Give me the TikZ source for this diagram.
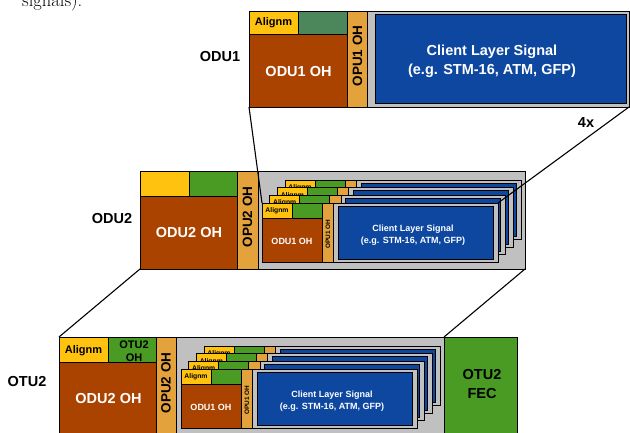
\documentclass[tikz,border=0pt]{standalone}
\usepackage{fontspec}
\setsansfont{Liberation Sans}
\definecolor{cyel}{RGB}{255,194,14}
\definecolor{cgrn}{RGB}{73,155,36}
\definecolor{cgrnm}{RGB}{76,135,92}
\definecolor{cbrn}{RGB}{170,66,0}
\definecolor{corg}{RGB}{228,162,60}
\definecolor{cgry}{RGB}{192,192,192}
\definecolor{cblu}{RGB}{14,71,160}
\tikzset{
  bx/.style={draw=black, line width=0.8pt},
  big/.style={font=\sffamily\bfseries\fontsize{14.5}{19}\selectfont, inner sep=0pt},
  opub/.style={font=\sffamily\bfseries\fontsize{13.5}{15}\selectfont, inner sep=0pt, rotate=90},
  mid/.style={font=\sffamily\bfseries\fontsize{11}{13}\selectfont, inner sep=0pt},
  sml/.style={font=\sffamily\bfseries\fontsize{9}{11.7}\selectfont, inner sep=0pt},
  tny/.style={font=\sffamily\bfseries\fontsize{6.8}{8}\selectfont, inner sep=0pt},
  tnr/.style={font=\sffamily\bfseries\fontsize{6.4}{8}\selectfont, inner sep=0pt, rotate=90},
  conn/.style={line width=1.1pt, draw=black},
}
% #1,#2 top-left corner; #3 name prefix; #4 = 1 for the front card (all texts visible)
\newcommand\oducard[4]{%
  \begin{scope}[shift={(#1,#2)}]
    \draw[bx,fill=cyel] (0,0) rectangle (30,15);
    \draw[bx,fill=cgrn] (30,0) rectangle (60,15);
    \draw[bx,fill=cbrn] (0,15) rectangle (60,59.5);
    \draw[bx,fill=corg] (60,0) rectangle (71.5,59.5);
    \draw[bx,fill=cgry] (71.5,0) rectangle (236,59.5);
    \draw[bx,fill=cblu] (76,3) rectangle (231,56.5);
    \node[tny] (#3al) at (15,7.8) {Alignm};
    \ifnum#4=1
      \node[sml,text=white] (#3oh) at (30,38) {ODU1 OH};
      \node[tnr] (#3op) at (66,31) {OPU1 OH};
      \node[sml,text=white,align=center] (#3cl) at (151,32) {Client Layer Signal\\(e.g. STM-16, ATM, GFP)};
    \fi
    \coordinate (#3tl) at (0,0);
    \coordinate (#3tr) at (236,0);
  \end{scope}}
\begin{document}
\begin{tikzpicture}[x=1pt,y=-1pt]
\useasboundingbox (0,0) rectangle (630,433);
\clip (0,0) rectangle (630,433);
% cut-off body text
\node[anchor=base west, inner sep=0pt, font=\fontsize{18.5}{20}\selectfont] (sig) at (22,6.5) {signals).};
% ---------- ODU1 ----------
\draw[bx,fill=cyel] (249,11) rectangle (298,34);
\draw[bx,fill=cgrnm] (298,11) rectangle (347,34);
\draw[bx,fill=cbrn] (249,34) rectangle (347,107);
\draw[bx,fill=corg] (347,11) rectangle (367,107);
\draw[bx,fill=cgry] (367,11) rectangle (629,107);
\draw[bx,fill=cblu] (375,14) rectangle (626.5,103);
\node[mid] (t1al) at (273.5,23) {Alignm};
\node[big,text=white] (t1oh) at (298.5,72) {ODU1 OH};
\node[opub] (t1op) at (357.5,56) {OPU1 OH};
\node[big,text=white,align=center] (t1cl) at (492,61) {Client Layer Signal\\(e.g. STM-16, ATM, GFP)};
\node[big] (l1) at (220,57) {ODU1};
\node[big] (l4x) at (586,123) {4x};
\coordinate (o1bl) at (249,107);
\coordinate (o1br) at (629,107);
% ---------- ODU2 ----------
\draw[bx,fill=cyel] (140,171) rectangle (189,196);
\draw[bx,fill=cgrn] (189,171) rectangle (237,196);
\draw[bx,fill=cbrn] (140,196) rectangle (237,269);
\draw[bx,fill=corg] (237,171) rectangle (258,269);
\draw[bx,fill=cgry] (258,171) rectangle (525,269);
\node[big,text=white] (t2oh) at (189,233) {ODU2 OH};
\node[opub] (t2op) at (247.5,217) {OPU2 OH};
\node[big] (l2) at (112,219) {ODU2};
\oducard{285}{180}{a3}{0}
\oducard{277.3}{187.7}{a2}{0}
\oducard{269.7}{195.3}{a1}{0}
\oducard{262}{203}{a0}{1}
\coordinate (o2bl) at (140,269);
\coordinate (o2br) at (525,269);
% ---------- OTU2 ----------
\draw[bx,fill=cyel] (59,337) rectangle (108.5,362);
\draw[bx,fill=cgrn] (108.5,337) rectangle (156,362);
\draw[bx,fill=cbrn] (59,362) rectangle (156,440);
\draw[bx,fill=corg] (156,337) rectangle (176,440);
\draw[bx,fill=cgry] (176,337) rectangle (444,440);
\draw[bx,fill=cgrn] (444,337) rectangle (517,440);
\node[mid] (t3al) at (83.5,350.5) {Alignm};
\node[mid,align=center] (t3ot) at (134,351.5) {OTU2\\OH};
\node[big,text=white] (t3oh) at (108.5,399) {ODU2 OH};
\node[opub] (t3op) at (166,383) {OPU2 OH};
\node[big,align=center] (t3fec) at (482,384.5) {OTU2\\FEC};
\node[big] (l3) at (27,382) {OTU2};
\oducard{204}{346}{b3}{0}
\oducard{196.3}{353.7}{b2}{0}
\oducard{188.7}{361.3}{b1}{0}
\oducard{181}{369}{b0}{1}
\coordinate (o3tl) at (59,337);
\coordinate (o3tr) at (444,337);
% ---------- connectors ----------
\draw[conn] (o1bl) -- (a0tl);
\draw[conn] (o1br) -- (a0tr);
\draw[conn] (o2bl) -- (o3tl);
\draw[conn] (o2br) -- (o3tr);
\end{tikzpicture}
\end{document}
